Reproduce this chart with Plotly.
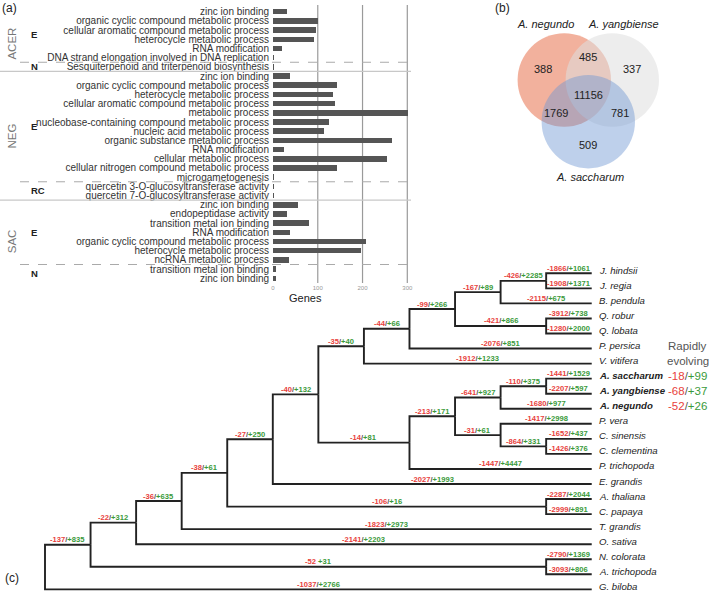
import plotly.graph_objects as go

W, H = 709, 592
FONT = "Liberation Sans, Arial, sans-serif"

# ---------------- (a) GO enrichment data ----------------
go_terms = [
    "zinc ion binding",
    "organic cyclic compound metabolic process",
    "cellular aromatic compound metabolic process",
    "heterocycle metabolic process",
    "RNA modification",
    "DNA strand elongation involved in DNA replication",
    "Sesquiterpenoid and triterpenoid biosynthesis",
    "zinc ion binding",
    "organic cyclic compound metabolic process",
    "heterocycle metabolic process",
    "cellular aromatic compound metabolic process",
    "metabolic process",
    "nucleobase-containing compound metabolic process",
    "nucleic acid metabolic process",
    "organic substance metabolic process",
    "RNA modification",
    "cellular metabolic process",
    "cellular nitrogen compound metabolic process",
    "microgametogenesis",
    "quercetin 3-O-glucosyltransferase activity",
    "quercetin 7-O-glucosyltransferase activity",
    "zinc ion binding",
    "endopeptidase activity",
    "transition metal ion binding",
    "RNA modification",
    "organic cyclic compound metabolic process",
    "heterocycle metabolic process",
    "ncRNA metabolic process",
    "transition metal ion binding",
    "zinc ion binding",
]
go_genes = [31, 100, 97, 92, 20, 3, 3,
            39, 143, 135, 139, 302, 126, 115, 265, 25, 254, 143, 3, 2, 2,
            55, 32, 80, 38, 207, 197, 35, 7, 6]
group_names = ["ACER", "NEG", "SAC"]
group_sizes = [7, 14, 9]
class_names = ["E", "N", "E", "RC", "E", "N"]
class_sizes = [6, 1, 12, 2, 7, 2]
gene_ticks = [0, 100, 200, 300]

# ---------------- (b) Venn data ----------------
venn_sets = ["A. negundo", "A. yangbiense", "A. saccharum"]
venn_regions = ["N", "NY", "Y", "NYS", "NS", "YS", "S"]
venn_counts = [388, 485, 337, 11156, 1769, 781, 509]

# ---------------- (c) tree data ----------------
leaf_names = ["J. hindsii", "J. regia", "B. pendula", "Q. robur", "Q. lobata",
              "P. persica", "V. vitifera", "A. saccharum", "A. yangbiense",
              "A. negundo", "P. vera", "C. sinensis", "C. clementina",
              "P. trichopoda", "E. grandis", "A. thaliana", "C. papaya",
              "T. grandis", "O. sativa", "N. colorata", "A. trichopoda", "G. biloba"]
leaf_loss = [-1866, -1908, -2115, -3912, -1280, -2076, -1912, -1441, -2207, -1680,
             -1417, -1652, -1426, -1447, -2027, -2287, -2999, -1823, -2141, -2790,
             -3093, -1037]
leaf_gain = [1061, 1371, 675, 738, 2000, 851, 1233, 1529, 597, 977,
             2998, 437, 376, 4447, 1993, 2044, 891, 2973, 2203, 1369, 806, 2766]
bold_leaves = ["A. saccharum", "A. yangbiense", "A. negundo"]
rapid_loss = [-18, -68, -52]
rapid_gain = [99, 37, 26]

clade_names = ["Juglans", "N10", "Quercus", "N9", "N8", "N7", "AcerSY", "Acer",
               "Citrus", "RutPis", "Ns2", "Nsap", "N6", "N5", "Brass", "N4",
               "N3", "N2", "Nymph", "N1", "Root"]
clade_children = [
    ["J. hindsii", "J. regia"],
    ["Juglans", "B. pendula"],
    ["Q. robur", "Q. lobata"],
    ["N10", "Quercus"],
    ["N9", "P. persica"],
    ["N8", "V. vitifera"],
    ["A. saccharum", "A. yangbiense"],
    ["AcerSY", "A. negundo"],
    ["C. sinensis", "C. clementina"],
    ["P. vera", "Citrus"],
    ["Acer", "RutPis"],
    ["Ns2", "P. trichopoda"],
    ["N7", "Nsap"],
    ["N6", "E. grandis"],
    ["A. thaliana", "C. papaya"],
    ["N5", "Brass"],
    ["N4", "T. grandis"],
    ["N3", "O. sativa"],
    ["N. colorata", "A. trichopoda"],
    ["N2", "Nymph"],
    ["N1", "G. biloba"],
]
clade_loss = [-426, -167, -421, -99, -44, -35, -110, -641, -864, -31, -213, -14,
              -40, -27, -106, -38, -36, -22, -52, -137, None]
clade_gain = [2285, 89, 866, 266, 66, 40, 375, 927, 331, 61, 171, 81,
              132, 250, 16, 61, 635, 312, 31, 835, None]
space_sep_clades = ["Nymph"]

RED = "#e8413c"
GREEN = "#3a9a3a"
SLASH = "#555555"

fig = go.Figure()

# ================= (a) bars =================
rows = list(range(len(go_terms)))
fig.add_trace(go.Bar(x=go_genes, y=rows, orientation="h", marker_color="#555555",
                     marker_line_width=0, width=0.6, xaxis="x", yaxis="y",
                     hoverinfo="skip", showlegend=False))

BAR_X0, BAR_X1 = 273, 409
ROW_TOP, ROW_BOT = 7.1, 282.9
shapes = []
for v in gene_ticks[1:]:
    shapes.append(dict(type="line", xref="x", yref="paper", x0=v, x1=v,
                       y0=1 - 283 / H, y1=1 - 5 / H,
                       line=dict(color="#9a9a9a", width=1.2), layer="below"))

annotations = []
# group separators & labels
start = 0
for gi, (gname, gsize) in enumerate(zip(group_names, group_sizes)):
    end = start + gsize
    if gi > 0:
        shapes.append(dict(type="line", xref="paper", yref="y", x0=0, x1=411 / W,
                           y0=start - 0.5, y1=start - 0.5,
                           line=dict(color="#c8c8c8", width=1.3)))
    mid = (start + end - 1) / 2 + (0.5 if gi == 0 else 0)
    annotations.append(dict(text=gname, xref="paper", yref="y", x=11.7 / W, y=mid,
                            textangle=-90, showarrow=False, xanchor="center",
                            yanchor="middle", font=dict(size=11.5, color="#777777")))
    start = end

# class separators & labels
start = 0
cum_group = [sum(group_sizes[:i + 1]) for i in range(len(group_sizes))]
for ci, (cname, csize) in enumerate(zip(class_names, class_sizes)):
    end = start + csize
    if start not in [0] + cum_group:
        shapes.append(dict(type="line", xref="paper", yref="y", x0=20 / W, x1=409 / W,
                           y0=start - 0.5, y1=start - 0.5,
                           line=dict(color="#aaaaaa", width=1, dash="dash")))
    mid = (start + end - 1) / 2
    annotations.append(dict(text="<b>%s</b>" % cname, xref="paper", yref="y",
                            x=29 / W, y=mid, showarrow=False, xanchor="left",
                            yanchor="middle", font=dict(size=9.5, color="#222222")))
    start = end

annotations.append(dict(text="Genes", xref="paper", yref="paper", x=305 / W,
                        y=1 - 298 / H, showarrow=False, xanchor="center",
                        yanchor="middle", font=dict(size=11, color="#222222")))

# ================= (b) Venn =================
VX0, VY0, VS = 588.3, 94.0, 46.7   # px origin & px per unit
venn_centers = [(-0.514, 0.3), (0.514, 0.3), (0.0, -0.593)]
venn_fill = ["rgba(230,100,60,0.5)", "rgba(222,222,222,0.55)",
             "rgba(110,150,210,0.45)"]
for (cx, cy), fc in zip(venn_centers, venn_fill):
    shapes.append(dict(type="circle", xref="x2", yref="y2", x0=cx - 1, x1=cx + 1,
                       y0=cy - 1, y1=cy + 1, fillcolor=fc, line=dict(width=0),
                       layer="below"))
venn_count_pos = [(-0.964, 0.535), (0, 0.786), (0.929, 0.535), (0.0, -0.02),
                  (-0.692, -0.413), (0.679, -0.413), (0, -1.092)]
for (px_, py_), cnt in zip(venn_count_pos, venn_counts):
    annotations.append(dict(text=str(cnt), xref="x2", yref="y2", x=px_, y=py_,
                            showarrow=False, font=dict(size=11, color="#222222")))
venn_label_pos = [(-0.906, 1.493), (0.749, 1.493), (0.036, -1.771)]
for (px_, py_), nm in zip(venn_label_pos, venn_sets):
    annotations.append(dict(text="<i>%s</i>" % nm, xref="x2", yref="y2", x=px_, y=py_,
                            showarrow=False, font=dict(size=11, color="#222222")))

# ================= (c) tree =================
ypos = {n: i for i, n in enumerate(leaf_names)}
height = {n: 0 for n in leaf_names}
children = dict(zip(clade_names, clade_children))
for c in clade_names:
    ch = children[c]
    ypos[c] = sum(ypos[k] for k in ch) / len(ch)
    height[c] = 1 + max(height[k] for k in ch)
top = height["Root"]
xpos = {n: top - height[n] for n in height}
parent = {k: c for c in clade_names for k in children[c]}

lx, ly = [], []
for n, p in parent.items():
    lx += [xpos[p], xpos[p], xpos[n], None]
    ly += [ypos[p], ypos[n], ypos[n], None]
fig.add_trace(go.Scatter(x=lx, y=ly, mode="lines", xaxis="x3", yaxis="y3",
                         line=dict(color="#222222", width=1.9), hoverinfo="skip",
                         showlegend=False))

loss_of = dict(zip(leaf_names, leaf_loss))
loss_of.update(dict(zip(clade_names, clade_loss)))
gain_of = dict(zip(leaf_names, leaf_gain))
gain_of.update(dict(zip(clade_names, clade_gain)))


def lg_text(loss, gain, sep="/", bold=True):
    t = ('<span style="color:%s">%d</span><span style="color:%s">%s</span>'
         '<span style="color:%s">+%d</span>' % (RED, loss, SLASH, sep, GREEN, gain))
    return "<b>%s</b>" % t if bold else t


for n, p in parent.items():
    sep = " " if n in space_sep_clades else "/"
    annotations.append(dict(text=lg_text(loss_of[n], gain_of[n], sep), xref="x3",
                            yref="y3", x=(xpos[p] + xpos[n]) / 2, y=ypos[n],
                            yanchor="bottom", xanchor="center", yshift=-1.5,
                            showarrow=False, font=dict(size=7.6)))

for n in leaf_names:
    t = "<i>%s</i>" % n
    if n in bold_leaves:
        t = "<b>%s</b>" % t
    annotations.append(dict(text=t, xref="x3", yref="y3", x=xpos[n], y=ypos[n],
                            xanchor="left", yanchor="middle", xshift=5, yshift=3,
                            showarrow=False, font=dict(size=9.6, color="#222222")))

RAPID_X = 14.11
annotations.append(dict(text="Rapidly", xref="x3", yref="y3", x=RAPID_X,
                        y=ypos["P. persica"], yshift=3, showarrow=False,
                        font=dict(size=11.5, color="#555555")))
annotations.append(dict(text="evolving", xref="x3", yref="y3", x=RAPID_X,
                        y=ypos["V. vitifera"], yshift=3, showarrow=False,
                        font=dict(size=11.5, color="#555555")))
for n, lo, ga in zip(bold_leaves, rapid_loss, rapid_gain):
    annotations.append(dict(text=lg_text(lo, ga, bold=False), xref="x3", yref="y3",
                            x=RAPID_X, y=ypos[n], yshift=3, showarrow=False,
                            font=dict(size=11.5)))

# panel letters
for txt, px_, py_ in [("(a)", 9.3, 8.3), ("(b)", 502.7, 7.5), ("(c)", 11.7, 578.3)]:
    annotations.append(dict(text=txt, xref="paper", yref="paper", x=px_ / W,
                            y=1 - py_ / H, showarrow=False, xanchor="center",
                            yanchor="middle", font=dict(size=12, color="#222222")))

SX, X0 = 45.56, 45.0
SY, Y0 = 15.05, 273.3

fig.update_layout(
    width=W, height=H, template="none",
    margin=dict(l=0, r=0, t=0, b=0),
    paper_bgcolor="white", plot_bgcolor="rgba(0,0,0,0)",
    font=dict(family=FONT, color="#222222"),
    showlegend=False,
    bargap=0,
    xaxis=dict(domain=[BAR_X0 / W, BAR_X1 / W], range=[0, 303.8], anchor="y",
               tickvals=gene_ticks, tickfont=dict(size=6, color="#999999"),
               showgrid=False, zeroline=False, showline=False, ticks="",
               automargin=False, fixedrange=True),
    yaxis=dict(domain=[1 - ROW_BOT / H, 1 - ROW_TOP / H], range=[29.5, -0.5],
               anchor="x", tickvals=rows, ticktext=go_terms,
               tickfont=dict(size=10, color="#333333"), ticks="",
               ticklabelstandoff=3,
               showgrid=False, zeroline=False, showline=False, automargin=False),
    xaxis2=dict(domain=[500 / W, 680 / W], range=[(500 - VX0) / VS, (680 - VX0) / VS],
                anchor="y2", visible=False, automargin=False),
    yaxis2=dict(domain=[1 - 185 / H, 1.0], range=[(VY0 - 185) / VS, VY0 / VS],
                anchor="x2", visible=False, automargin=False),
    xaxis3=dict(domain=[0, 1], range=[(0 - X0) / SX, (W - X0) / SX], anchor="y3",
                visible=False, automargin=False),
    yaxis3=dict(domain=[0, 1], range=[(H - Y0) / SY, (0 - Y0) / SY], anchor="x3",
                visible=False, automargin=False),
    shapes=shapes,
    annotations=annotations,
)

fig.write_html("out.html", config={"displayModeBar": False, "staticPlot": True},
               post_script="document.body.style.margin='0';document.body.style.padding='0';")
